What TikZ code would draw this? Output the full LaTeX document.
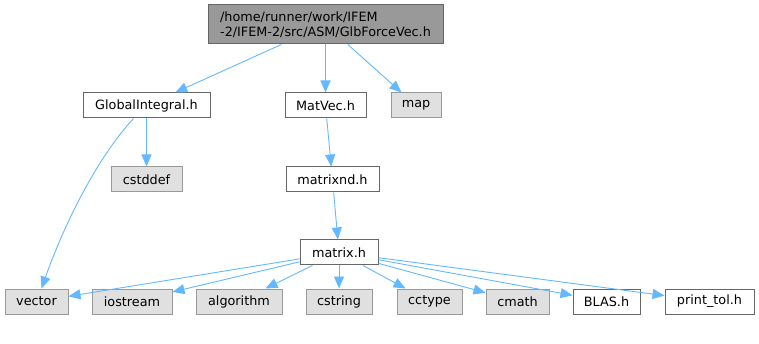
\documentclass[tikz,border=0pt]{standalone}
\usepackage{fontspec}
\setmainfont{DejaVu Sans}
\usepackage{tikz}
\usetikzlibrary{arrows.meta, positioning}
\usepackage{xcolor}
\definecolor{edgeblue}{RGB}{99,184,255}
\definecolor{sysfill}{RGB}{224,224,224}
\definecolor{sysline}{RGB}{153,153,153}
\definecolor{rootfill}{RGB}{153,153,153}
\definecolor{boxline}{RGB}{102,102,102}

\tikzset{
  hdr/.style={draw=boxline, fill=white, line width=1pt, font=\fontsize{12.8}{15}\selectfont,
    minimum height=25pt, inner xsep=6pt, inner ysep=2pt},
  sys/.style={hdr, draw=sysline, fill=sysfill},
  dep/.style={draw=edgeblue, line width=0.9pt, -{Triangle[length=12pt,width=10pt]}}
}

\begin{document}
\begin{tikzpicture}[x=1pt, y=-1pt]
  \useasboundingbox (0,0) rectangle (759,344);
  % the file itself
  \node[hdr, fill=rootfill, align=left, minimum width=235pt, minimum height=39pt] (root) at (325.5,24.5)
    {/home/runner/work/IFEM\\-2/IFEM-2/src/ASM/GlbForceVec.h};
  % first level
  \node[hdr, minimum width=127pt] (gi) at (146.5,105.5) {GlobalIntegral.h};
  \node[hdr, minimum width=81pt] (matvec) at (325.5,105.5) {MatVec.h};
  \node[sys, minimum width=50pt] (map) at (416,105.5) {map};
  % second level
  \node[sys, minimum width=71pt] (cstddef) at (146.5,179.5) {cstddef};
  \node[hdr, minimum width=93pt] (matrixnd) at (332.5,179.5) {matrixnd.h};
  \node[hdr, minimum width=78pt] (matrix) at (339,252.5) {matrix.h};
  % bottom row
  \node[sys, minimum width=63pt] (vector) at (36.5,301.5) {vector};
  \node[sys, minimum width=80pt] (iostream) at (132,301.5) {iostream};
  \node[sys, minimum width=86pt] (algorithm) at (239,301.5) {algorithm};
  \node[sys, minimum width=66pt] (cstring) at (339,301.5) {cstring};
  \node[sys, minimum width=65pt] (cctype) at (429.5,301.5) {cctype};
  \node[sys, minimum width=63pt] (cmath) at (517.5,301.5) {cmath};
  \node[hdr, minimum width=67pt] (blas) at (606.5,301.5) {BLAS.h};
  \node[hdr, minimum width=89pt] (printtol) at (709.5,301.5) {print\_tol.h};

  % includes
  \draw[dep] (root) -- (gi);
  \draw[dep] (root.south -| matvec) -- (matvec);
  \draw[dep] (root) -- (map);
  \draw[dep] (gi) -- (cstddef);
  \draw[dep] ([xshift=-13pt]gi.south) .. controls (95,160) and (62,230) .. ([xshift=5pt]vector.north);
  \draw[dep] (matvec) -- (matrixnd);
  \draw[dep] (matrixnd) -- (matrix);
  \foreach \n in {vector,iostream,algorithm,cstring,cctype,cmath,blas,printtol}
    \draw[dep] (matrix) -- (\n);
\end{tikzpicture}
\end{document}
